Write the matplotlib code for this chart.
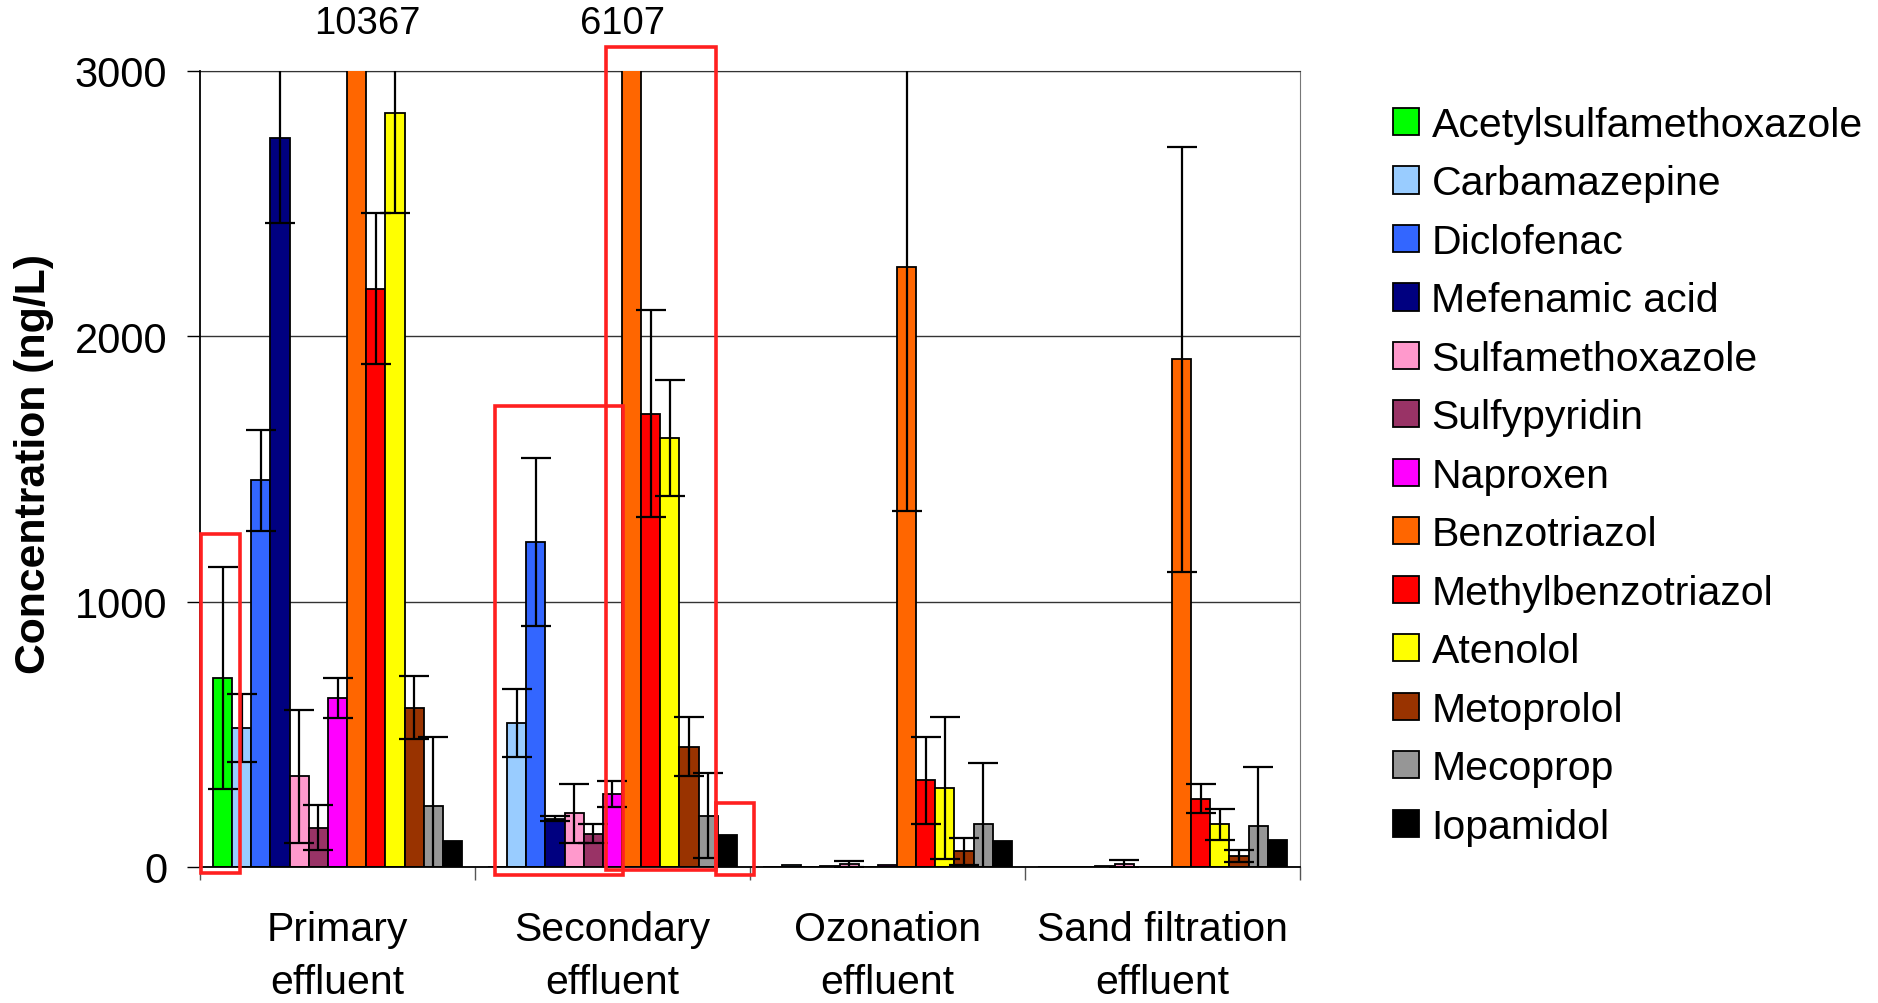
import numpy as np
import matplotlib
matplotlib.use("Agg")
import matplotlib.pyplot as plt
from matplotlib.patches import Rectangle

plt.rcParams['font.family'] = ['Liberation Sans', 'DejaVu Sans']

# Treatment stages (x categories)
stages = ["Primary\neffluent", "Secondary\neffluent",
          "Ozonation\neffluent", "Sand filtration\neffluent"]

compounds = ["Acetylsulfamethoxazole", "Carbamazepine", "Diclofenac",
             "Mefenamic acid", "Sulfamethoxazole", "Sulfypyridin",
             "Naproxen", "Benzotriazol", "Methylbenzotriazol", "Atenolol",
             "Metoprolol", "Mecoprop", "Iopamidol"]

colors = ["#00FF00", "#99CCFF", "#3366FF", "#000080", "#FF99CC", "#993366",
          "#FF00FF", "#FF6600", "#FF0000", "#FFFF00", "#993300", "#969696",
          "#000000"]

# Mean concentrations (ng/L): primary, secondary, ozonation, sand filtration
acetylsulfamethoxazole = [712, 0, 0, 0]
carbamazepine = [525, 542, 8, 0]
diclofenac = [1458, 1225, 0, 0]
mefenamic_acid = [2746, 182, 5, 5]
sulfamethoxazole = [341, 203, 10, 12]
sulfypyridin = [148, 125, 0, 0]
naproxen = [638, 275, 7, 0]
benzotriazol = [10367, 6107, 2263, 1913]
methylbenzotriazol = [2180, 1708, 326, 258]
atenolol = [2841, 1616, 297, 161]
metoprolol = [600, 453, 59, 42]
mecoprop = [229, 193, 161, 153]
iopamidol = [97, 119, 97, 102]

# Standard deviations (ng/L); 0 means no error bar
acetylsulfamethoxazole_sd = [420, 0, 0, 0]
carbamazepine_sd = [128, 127, 0, 0]
diclofenac_sd = [190, 318, 0, 0]
mefenamic_acid_sd = [320, 10, 0, 0]
sulfamethoxazole_sd = [252, 111, 11, 15]
sulfypyridin_sd = [85, 36, 0, 0]
naproxen_sd = [76, 50, 0, 0]
benzotriazol_sd = [0, 0, 920, 800]
methylbenzotriazol_sd = [283, 390, 164, 53]
atenolol_sd = [377, 218, 267, 58]
metoprolol_sd = [118, 112, 51, 23]
mecoprop_sd = [260, 160, 231, 224]
iopamidol_sd = [0, 0, 0, 0]

means = [acetylsulfamethoxazole, carbamazepine, diclofenac, mefenamic_acid,
         sulfamethoxazole, sulfypyridin, naproxen, benzotriazol,
         methylbenzotriazol, atenolol, metoprolol, mecoprop, iopamidol]
sds = [acetylsulfamethoxazole_sd, carbamazepine_sd, diclofenac_sd,
       mefenamic_acid_sd, sulfamethoxazole_sd, sulfypyridin_sd, naproxen_sd,
       benzotriazol_sd, methylbenzotriazol_sd, atenolol_sd, metoprolol_sd,
       mecoprop_sd, iopamidol_sd]

y_max = 3000
y_ticks = [0, 1000, 2000, 3000]

# Highlight frames: (x0, x1, y0, y1) in data coordinates
highlights = [(-0.496, -0.355, -23, 1255),
              (0.573, 1.038, -30, 1737),
              (0.976, 1.376, -11, 3090),
              (1.376, 1.515, -30, 241)]

fig = plt.figure(figsize=(18.78, 10.04), dpi=100)
ax = fig.add_axes([0.1065, 0.1355, 0.5857, 0.7928])

n = len(compounds)
group_x = np.arange(len(stages))
w = 0.905 / n

for j, (name, col, m, s) in enumerate(zip(compounds, colors, means, sds)):
    xs = group_x + (j - (n - 1) / 2) * w
    ax.bar(xs, m, width=w, color=col, edgecolor="black", linewidth=1.3,
           label=name, zorder=3)
    m_arr = np.array(m, dtype=float)
    s_arr = np.array(s, dtype=float)
    keep = s_arr > 0
    if keep.any():
        ax.errorbar(xs[keep], m_arr[keep], yerr=s_arr[keep], fmt="none",
                    ecolor="black", elinewidth=1.6, capsize=10.5,
                    capthick=1.6, zorder=4)

# Values of bars running off the top of the scale
bz = compounds.index("Benzotriazol")
for gi, dx in [(0, 8), (1, -6.5)]:
    xb = group_x[gi] + (bz - (n - 1) / 2) * w
    ax.annotate(f"{benzotriazol[gi]}", xy=(xb, y_max), xytext=(dx, 34.5),
                textcoords="offset points", ha="center", va="center",
                fontsize=27.5, annotation_clip=False)

ax.set_xlim(-0.5, len(stages) - 0.5)
ax.set_ylim(0, y_max)
ax.set_yticks(y_ticks)
ax.set_yticklabels([str(t) for t in y_ticks], fontsize=30)
ax.set_xticks(group_x)
ax.set_xticklabels(stages, fontsize=29.5, linespacing=1.5)
ax.set_xticks(np.arange(len(stages) + 1) - 0.5, minor=True)
ax.tick_params(axis="x", which="major", length=0, pad=31)
ax.tick_params(axis="x", which="minor", length=9.5, width=1, direction="out",
               color="#555555")
ax.tick_params(axis="y", length=9.5, width=1, direction="out", pad=14)

ax.yaxis.grid(True, color="#333333", linewidth=1.0, zorder=0)
ax.set_axisbelow(True)
for side in ["left", "bottom"]:
    ax.spines[side].set_color("black")
    ax.spines[side].set_linewidth(1.3)
ax.spines["right"].set_color("#777777")
ax.spines["top"].set_color("#333333")
ax.spines["left"].set_zorder(5)
ax.spines["bottom"].set_zorder(5)

for x0, x1, y0, y1 in highlights:
    ax.add_patch(Rectangle((x0, y0), x1 - x0, y1 - y0, fill=False,
                           edgecolor="#FF2020", linewidth=2.6, zorder=6,
                           clip_on=False))

fig.text(34 / 1878, 0.538, "Concentration (ng/L)", rotation=90,
         ha="center", va="center", fontsize=30.8, fontweight="bold")

leg = ax.legend(loc="upper left", bbox_to_anchor=(0.7417, 0.8935),
                bbox_transform=fig.transFigure, frameon=False, fontsize=29.5,
                handlelength=0.64, handleheight=0.64, handletextpad=0.3,
                labelspacing=0.5, borderpad=0, borderaxespad=0)

fig.savefig("out.png", dpi=100, facecolor="white")
